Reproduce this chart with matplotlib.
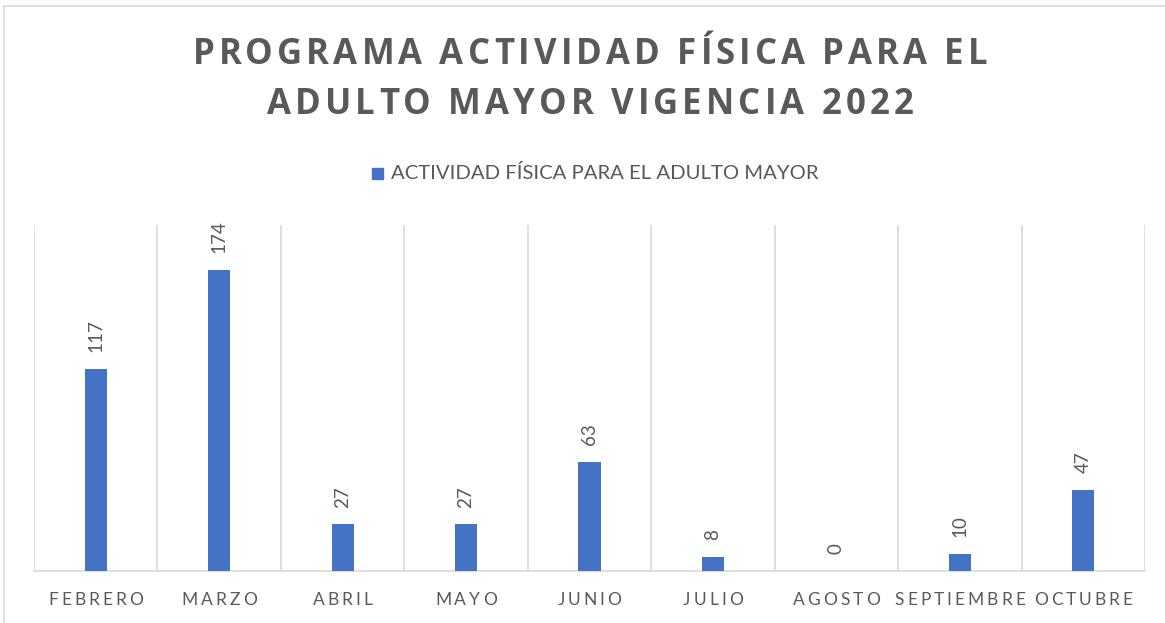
import numpy as np
import matplotlib
matplotlib.use("Agg")
import matplotlib.pyplot as plt
from matplotlib.patches import Rectangle

W, H = 1165, 623
BAR_COLOR = "#4472C4"
TEXT_COLOR = "#595959"
GRID_COLOR = "#D9D9D9"
FONT = "Lato"
TITLE_FONT = "Open Sans"

months = ["FEBRERO", "MARZO", "ABRIL", "MAYO", "JUNIO", "JULIO",
          "AGOSTO", "SEPTIEMBRE", "OCTUBRE"]
values = [117, 174, 27, 27, 63, 8, 0, 10, 47]
title_lines = ["PROGRAMA ACTIVIDAD FÍSICA PARA EL", "ADULTO MAYOR VIGENCIA 2022"]
series_name = "ACTIVIDAD FÍSICA PARA EL ADULTO MAYOR"

fig = plt.figure(figsize=(W / 100, H / 100), dpi=100)
renderer = fig.canvas.get_renderer()


def advance(ch, **kw):
    # width a character adds to a line, in pixels
    def w(s):
        t = fig.text(0, 0, s, **kw)
        bb = t.get_window_extent(renderer)
        t.remove()
        return bb.width
    return w("|" + ch + "|") - w("||")


def spaced_text(xc, yc, s, spacing, **kw):
    """Draw s centred at pixel (xc, yc from bottom) with extra letter spacing."""
    widths = [advance(c, **kw) for c in s]
    total = sum(widths) + spacing * (len(s) - 1)
    x = xc - total / 2
    for c, w in zip(s, widths):
        if c != " ":
            fig.text(x / W, yc / H, c, ha="left", va="center", **kw)
        x += w + spacing


# thin frame of the chart area
fig.patches.append(Rectangle((4 / W, -0.05), 1.1, 1 - 6 / H + 0.05,
                             transform=fig.transFigure, fill=False,
                             edgecolor=GRID_COLOR, linewidth=1.2))

ax = fig.add_axes([34 / W, 1 - 571 / H, (1145 - 34) / W, (571 - 225) / H])
x = np.arange(len(months))
bars = ax.bar(x, values, width=0.18, color=BAR_COLOR, zorder=3)
ax.set_xlim(-0.5, len(months) - 0.5)
ax.set_ylim(0, 200)

for xb in np.arange(-0.5, len(months), 1.0):
    ax.axvline(xb, color=GRID_COLOR, linewidth=1.2, zorder=1)
for side in ["top", "right", "left"]:
    ax.spines[side].set_visible(False)
ax.spines["bottom"].set_color(GRID_COLOR)
ax.spines["bottom"].set_linewidth(1.2)
ax.set_yticks([])
ax.set_xticks([])

for xi, v in zip(x, values):
    ax.annotate(f"{v}", (xi, v), xytext=(0, 12), textcoords="offset points",
                rotation=90, ha="center", va="bottom", fontsize=13.5,
                color=TEXT_COLOR, family=FONT)

# category labels, letter spaced
for xi, m in zip(x, months):
    px, py = ax.transData.transform((xi, 0))
    spaced_text(px, py - 29, m, 3.0, fontsize=12.5, color=TEXT_COLOR, family=FONT)

# title
spaced_text(590, H - 55, title_lines[0], 4.1, fontsize=25, fontweight="bold",
            color=TEXT_COLOR, family=TITLE_FONT)
spaced_text(590, H - 105, title_lines[1], 4.1, fontsize=25, fontweight="bold",
            color=TEXT_COLOR, family=TITLE_FONT)

# legend
fig.patches.append(Rectangle((372 / W, 1 - 179 / H), 11 / W, 11 / H,
                             transform=fig.transFigure, color=BAR_COLOR))
fig.text(391 / W, 1 - 173 / H, series_name, ha="left", va="center",
         fontsize=14.6, color=TEXT_COLOR, family=FONT)

fig.savefig("out.png", dpi=100)
